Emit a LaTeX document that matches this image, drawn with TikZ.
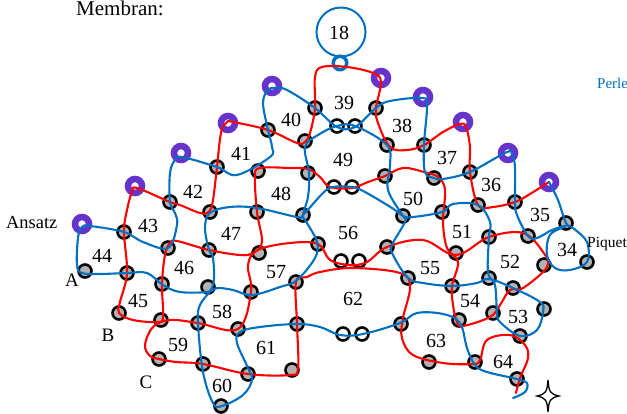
\documentclass[tikz,border=0pt]{standalone}
\usepackage{fontspec}
\setmainfont{Liberation Serif}
\definecolor{lblue}{HTML}{0070C0}
\definecolor{lred}{HTML}{FF0000}
\definecolor{lpurple}{HTML}{6633CC}
\definecolor{lgray}{HTML}{B2B2B2}
\tikzset{
 bead/.style={circle,draw=black,fill=lgray,line width=2.6pt,minimum size=13pt,inner sep=0pt},
 openbead/.style={circle,draw=black,fill=white,line width=2.6pt,minimum size=13pt,inner sep=0pt},
 ringp/.style={circle,draw=lpurple,fill=white,line width=6.5pt,minimum size=14pt,inner sep=0pt},
 ringb/.style={circle,draw=lblue,fill=white,line width=3.5pt,minimum size=13.5pt,inner sep=0pt},
 num/.style={font=\fontsize{20}{20}\selectfont,text=black,inner sep=0pt},
 lab/.style={font=\fontsize{19}{19}\selectfont,text=black,inner sep=0pt},
 wire/.style={line width=2.1pt,line join=round,line cap=round},
}
\newcommand{\gb}[2]{\node[bead] (b#1x#2) at (#1,#2) {};}
\newcommand{\ob}[2]{\node[openbead] (o#1x#2) at (#1,#2) {};}
\newcommand{\pr}[2]{\node[ringp] (p#1x#2) at (#1,#2) {};}
\newcommand{\nm}[3]{\node[num] (n#3) at (#1,#2) {#3};}
\begin{document}
\begin{tikzpicture}[x=1pt,y=-1pt]
\useasboundingbox (0,0) rectangle (627,414);
\clip (0,0) rectangle (627,414);
\fill[white] (0,0) rectangle (627,414);
% rings
\foreach \a/\b in {82/224,135/186,181/153,228/123,272/86,381/78,423/97,463/122,508/153,549/182}{\pr{\a}{\b}}
% circle 18
\node[circle,draw=lblue,line width=2pt,minimum size=49pt,inner sep=0pt] (c18) at (341,32) {};
\node[ringb] (top) at (340,63) {};
% beads
\foreach \a/\b in {268/130,305/141,315/108,217/167,258/171,308/173,170/202,210/212,257/212,303/215,
376/108,387/145,424/145,385/176,434/178,470/172,515/202,478/205,403/216,442/212,
124/232,168/248,85/271,127/273,162/284,119/313,161/320,198/323,238/329,159/359,203/364,248/374,292/370,221/406,
209/250,259/253,208/287,251/292,296/282,297/324,318/244,
566/223,528/236,489/237,387/247,456/253,544/265,587/262,489/278,513/288,408/278,452/286,493/313,544/309,459/320,401/324,520/336,429/362,475/362,517/379}{\gb{\a}{\b}}
\foreach \a/\b in {337/126,355/126,334/187,352/187,341/261,359/261,343/334,362/334}{\ob{\a}{\b}}
% red line
\draw[wire,lred] plot[smooth,tension=.6] coordinates {
(p549x182) (530,194) (b515x202) (493,207) (b478x205) (b470x172) (470,147) (466,127) (460,124) (443,132) (b424x145) (407,150) (390,147) (378,123) (b376x108)
(381,82) (373,73) (347,67) (322,67) (315,77) (b315x108) (310,133) (305,142) (297,143) (b268x130) (233,122) (227,122) (221,133) (b217x167) (213,200) (209,212) (200,213) (180,205) (b170x202) (137,188) (132,192) (127,210)
(b124x232) (b127x273) (120,302) (b119x313) (133,320) (157,322) (163,317) (b162x284) (165,255) (170,243) (177,241) (b209x250) (240,255) (253,253) (262,242) (b257x212) (255,177) (260,168) (290,168) (308,169) (320,177) (330,187) (352,188) (368,182) (b385x176) (403,168) (424,172) (438,177) (445,190) (443,222) (447,248) (458,262) (b452x286) (453,305) (457,322) (463,326) (490,317) (500,305) (510,290) (523,288) (547,267) (543,252) (523,233) (b489x237) (456,255) (423,240) (b387x247) (367,262) (350,265) (330,260) (b318x244) (290,243) (258,250) (248,265) (b251x292) (b238x329) (b198x323) (170,320) (153,327) (145,345) (150,356) (b159x359) (176,362) (b203x364) (b248x374) (290,375) (298,368) (b297x324) (b296x282) (307,277) (320,272) (353,268) (400,273) (410,287) (403,318) (402,338) (413,355) (443,363) (473,364) (480,360) (487,340) (510,335) (525,345) (528,358) (520,378) (516,393)};
% blue line
\draw[wire,lblue] plot[smooth,tension=.6] coordinates {
(513,398) (525,392) (527,383) (b517x379) (487,372) (475,365) (467,348) (460,323) (443,314) (417,313) (400,323) (363,334) (340,335) (320,327) (b297x324) (260,327) (240,332) (237,343) (248,368) (252,380) (243,395) (222,406) (213,403) (203,372) (b198x323) (200,305) (213,285) (213,258) (b209x250) (205,228) (210,213) (230,207) (257,208) (297,217) (b303x215) (323,193) (333,187) (352,187) (365,192) (392,208) (b403x216) (413,217) (b442x212) (453,204) (b478x205) (490,222) (b489x237) (488,272) (495,285) (497,312) (500,322) (b520x336) (537,330) (543,312) (540,302) (b513x288) (489,279) (477,283) (b452x286) (423,283) (b408x278) (393,255) (392,245) (405,222) (b403x216) (388,190) (390,165) (b387x145) (355,126) (337,126) (318,135) (305,147) (309,173) (308,197) (b303x215) (307,223) (317,242) (315,258) (297,280) (280,287) (252,295) (233,290) (217,288) (207,292) (180,292) (163,285) (147,273) (b127x273) (100,274) (82,273) (77,265) (78,238) (82,227) (90,226) (b124x232) (143,242) (b168x248) (177,225) (175,213) (b170x202) (170,173) (175,160) (182,157) (b217x167) (237,175) (270,157) (272,147) (b268x130) (263,103) (268,90) (275,88) (287,90) (b315x108) (337,127) (355,127) (b376x108) (390,101) (423,98) (427,107) (b424x145) (425,172) (b434x178) (443,179) (b470x172) (507,152) (512,156) (515,167) (b515x202) (517,215) (b528x236) (537,238) (552,230) (566,226) (550,235) (547,255) (555,268) (570,270) (587,262) (587,242) (573,228) (b566x223) (558,200) (p549x182)};
% labels
\foreach \a/\b/\c in {339/33/18,344/103/39,291/120/40,241/154/41,193/192/42,148/226/43,102/256/44,138/301/45,184/268/46,231/234/47,281/194/48,343/160/49,413/199/50,402/126/38,447/158/37,491/185/36,540/215/35,567/250/34,462/232/51,510/262/52,518/317/53,470/301/54,430/268/55,348/233/56,276/272/57,222/312/58,178/345/59,222/386/60,266/348/61,353/299/62,436/341/63,503/362/64}{\nm{\a}{\b}{\c}}
\node[lab,anchor=base west] (membran) at (76,15.5) {\fontsize{21}{21}\selectfont Membran:};
\node[lab,anchor=base west] (ansatz) at (6,229) {\fontsize{18.4}{18}\selectfont Ansatz};
\node[lab] (la) at (72,280) {A};
\node[lab] (lb) at (108,335) {B};
\node[lab] (lc) at (146,382) {C};
\node[lab,anchor=base west] (piquet) at (587,248) {\fontsize{15.5}{15}\selectfont Piquet};
\node[lab,anchor=base west,text=lblue] (perle) at (597,89) {\fontsize{15}{15}\selectfont Perle};
% star
\draw[black,fill=white,line width=1.3pt,line join=miter] (548,380) .. controls (549,392) and (550,394) .. (559,396) .. controls (550,398) and (549,400) .. (548,412) .. controls (547,400) and (546,398) .. (537,396) .. controls (546,394) and (547,392) .. (548,380) -- cycle;
\end{tikzpicture}
\end{document}
